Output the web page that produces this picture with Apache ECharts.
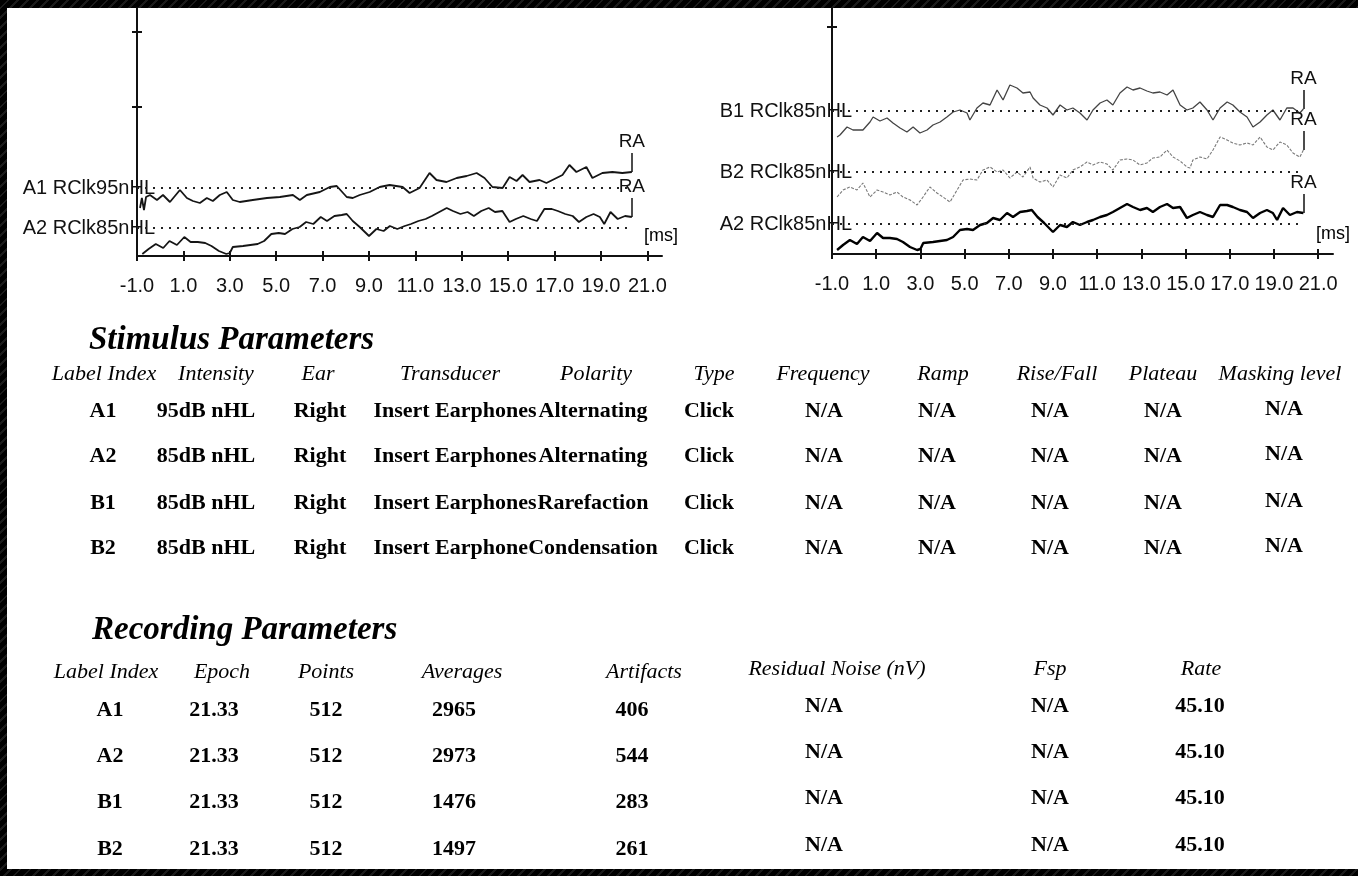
<!DOCTYPE html>
<html>
<head>
<meta charset="utf-8">
<title>Click ABR recordings</title>
<script src="https://cdn.jsdelivr.net/npm/echarts@6/dist/echarts.min.js"></script>
<style>
  html, body {
    margin: 0; padding: 0; width: 1358px; height: 876px; overflow: hidden;
    background: #000 repeating-linear-gradient(135deg, #000 0px, #000 5px, #1b1b1b 5px, #1b1b1b 7px);
  }
  #sheet { position: absolute; left: 7px; top: 8px; width: 1351px; height: 861px; background: #fff; }
  #chart { position: absolute; left: 0; top: 0; width: 1358px; height: 876px; }
</style>
</head>
<body>
<div id="sheet"></div>
<div id="chart"></div>
<script>
// ---- time axis (ms) ----
const timeTicks = [-1, 1, 3, 5, 7, 9, 11, 13, 15, 17, 19, 21];

// ---- averaged waveforms: [time ms, amplitude] relative to each trace's own baseline ----
const traceA1 = [[-0.87,-20],[-0.79,-10],[-0.7,-22],[-0.61,-9],[-0.44,-7],[-0.14,-12],[0.12,-7],[0.42,-14],[0.85,-2],[1.15,-10],[1.41,-13],[1.71,-15],[2.01,-10],[2.27,-13],[2.57,-7],[2.87,-4],[3.13,-12],[3.43,-14],[3.99,-12],[4.6,-10],[5.16,-9],[5.72,-7],[6.02,-12],[6.32,-7],[6.88,-4],[7.31,1],[7.61,2],[8.04,-9],[8.3,-10],[8.6,-7],[9.03,-4],[9.46,1],[9.89,3],[10.45,1],[10.75,-5],[11.18,0],[11.61,15],[11.91,8],[12.34,6],[12.78,10],[13.21,12],[13.64,15],[13.98,10],[14.32,1],[14.76,0],[15.06,11],[15.36,7],[15.62,13],[15.92,6],[16.35,8],[16.65,5],[17.08,10],[17.34,13],[17.64,23],[17.94,16],[18.37,21],[18.63,10],[19.06,15],[19.49,16],[19.92,15],[20.33,16]];

const traceA2 = [[-0.77,-26],[-0.5,-21],[-0.19,-16],[0.13,-20],[0.4,-13],[0.72,-17],[1.04,-9],[1.31,-14],[1.62,-14],[1.94,-15],[2.21,-18],[2.53,-23],[2.85,-26],[3.0,-25],[3.13,-19],[3.57,-18],[4.2,-16],[4.48,-13],[4.79,-6],[5.11,-5],[5.38,-6],[5.7,-1],[6.01,1],[6.29,6],[6.6,4],[6.92,11],[7.19,7],[7.51,12],[7.82,13],[8.04,14],[8.3,7],[8.6,1],[9.0,-8],[9.32,-1],[9.63,-3],[9.9,2],[10.22,-1],[10.54,2],[10.81,4],[11.13,7],[11.44,9],[11.71,12],[12.03,16],[12.35,20],[12.62,17],[12.94,14],[13.25,16],[13.52,12],[13.84,17],[14.16,20],[14.43,16],[14.75,17],[15.06,6],[15.33,9],[15.65,12],[15.97,9],[16.24,7],[16.56,19],[16.88,19],[17.14,17],[17.46,14],[17.78,12],[18.05,6],[18.37,11],[18.68,14],[18.95,11],[19.14,4],[19.41,16],[19.72,9],[20.04,12],[20.33,11]];

const traceB1 = [[-0.77,-26],[-0.64,-24],[-0.32,-16],[-0.05,-19],[0.4,-19],[0.72,-11],[0.86,-6],[1.17,-10],[1.49,-7],[1.76,-12],[2.08,-17],[2.39,-21],[2.67,-16],[2.98,-22],[3.3,-19],[3.57,-14],[3.89,-11],[4.2,-6],[4.48,-1],[4.79,1],[5.11,-2],[5.24,-9],[5.56,3],[5.83,8],[6.15,6],[6.47,21],[6.74,11],[7.05,26],[7.37,23],[7.64,18],[7.96,19],[8.1,13],[8.41,6],[8.73,3],[9.0,-4],[9.32,6],[9.63,1],[9.9,3],[10.22,-2],[10.54,-9],[10.81,1],[11.13,8],[11.44,11],[11.71,6],[12.03,18],[12.35,24],[12.62,21],[12.94,23],[13.25,20],[13.52,18],[13.84,19],[14.16,16],[14.43,21],[14.75,6],[15.06,1],[15.33,3],[15.65,9],[15.97,1],[16.24,-9],[16.56,3],[16.88,9],[17.14,6],[17.46,-1],[17.78,-6],[18.05,-16],[18.37,-11],[18.68,-4],[18.95,1],[19.27,-9],[19.58,3],[19.86,3],[20.17,-2],[20.33,2]];

const traceB2 = [[-0.77,-25],[-0.5,-18],[-0.19,-15],[0.13,-18],[0.4,-11],[0.72,-25],[1.04,-18],[1.31,-20],[1.62,-23],[1.94,-20],[2.21,-25],[2.53,-28],[2.85,-33],[3.12,-25],[3.43,-15],[3.75,-21],[4.02,-25],[4.34,-30],[4.66,-18],[4.93,-8],[5.24,-7],[5.56,-8],[5.83,2],[6.15,5],[6.47,0],[6.74,2],[7.05,-6],[7.37,0],[7.64,-5],[7.96,5],[8.1,-6],[8.41,-10],[8.73,-8],[9.0,-15],[9.32,-3],[9.63,-6],[9.9,2],[10.22,5],[10.54,10],[10.81,7],[11.13,10],[11.44,8],[11.71,2],[12.03,12],[12.35,13],[12.62,12],[12.94,7],[13.25,9],[13.52,14],[13.84,15],[14.16,22],[14.43,15],[14.75,11],[15.06,5],[15.2,4],[15.33,12],[15.65,15],[15.97,13],[16.24,22],[16.56,35],[16.88,32],[17.14,29],[17.46,27],[17.78,29],[18.05,27],[18.37,35],[18.68,25],[18.95,22],[19.27,30],[19.58,27],[19.86,19],[20.17,15],[20.33,22]];

// ---- trace names and vertical offsets of their baselines ----
const leftNames = ['A1 RClk95nHL', 'A2 RClk85nHL'];
const leftBaselines = [68, 28];
const rightNames = ['B1 RClk85nHL', 'B2 RClk85nHL', 'A2 RClk85nHL'];
const rightBaselines = [143, 82, 30];
const leftScaleTicks = [149, 224];
const rightScaleTicks = [227];
const markerText = 'RA';
const timeUnit = '[ms]';

// ---- parameter tables ----
const stimulusTitle = 'Stimulus Parameters';
const stimulusHeaders = ['Label Index', 'Intensity', 'Ear', 'Transducer', 'Polarity', 'Type', 'Frequency', 'Ramp', 'Rise/Fall', 'Plateau', 'Masking level'];
const stimulusRows = [
  ['A1', '95dB nHL', 'Right', 'Insert Earphones', 'Alternating', 'Click', 'N/A', 'N/A', 'N/A', 'N/A', 'N/A'],
  ['A2', '85dB nHL', 'Right', 'Insert Earphones', 'Alternating', 'Click', 'N/A', 'N/A', 'N/A', 'N/A', 'N/A'],
  ['B1', '85dB nHL', 'Right', 'Insert Earphones', 'Rarefaction', 'Click', 'N/A', 'N/A', 'N/A', 'N/A', 'N/A'],
  ['B2', '85dB nHL', 'Right', 'Insert Earphones', 'Condensation', 'Click', 'N/A', 'N/A', 'N/A', 'N/A', 'N/A']
];
const recordingTitle = 'Recording Parameters';
const recordingHeaders = ['Label Index', 'Epoch', 'Points', 'Averages', 'Artifacts', 'Residual Noise (nV)', 'Fsp', 'Rate'];
const recordingRows = [
  ['A1', '21.33', '512', '2965', '406', 'N/A', 'N/A', '45.10'],
  ['A2', '21.33', '512', '2973', '544', 'N/A', 'N/A', '45.10'],
  ['B1', '21.33', '512', '1476', '283', 'N/A', 'N/A', '45.10'],
  ['B2', '21.33', '512', '1497', '261', 'N/A', 'N/A', '45.10']
];

// ---- styling / layout ----
const SANS = '"Liberation Sans",Arial,sans-serif';
const SERIF = '"Liberation Serif","Times New Roman",serif';
const INK = '#111';

const panels = [
  { left: 137, top: 8, width: 525, height: 248, xMax: 21.63, yMax: 248 },
  { left: 832, top: 8, width: 501, height: 246, xMax: 21.67, yMax: 246 }
];

const tickStyle = { color: INK, width: 2 };

function xAxesFor(g) {
  const p = panels[g];
  return [
    {
      gridIndex: g, type: 'value', min: -1, max: p.xMax, position: 'bottom',
      axisLine: { show: true, onZero: false, lineStyle: { color: INK, width: 2 } },
      axisTick: { show: true, customValues: timeTicks, length: 5, lineStyle: tickStyle },
      axisLabel: { show: true, customValues: timeTicks, formatter: v => Number(v).toFixed(1),
        fontFamily: SANS, fontSize: 20, color: INK, margin: 20 },
      splitLine: { show: false }
    },
    { // inward half of the crossing ticks
      gridIndex: g, type: 'value', min: -1, max: p.xMax, position: 'bottom',
      axisLine: { show: false, onZero: false },
      axisTick: { show: true, inside: true, customValues: timeTicks, length: 5, lineStyle: tickStyle },
      axisLabel: { show: false }, splitLine: { show: false }
    }
  ];
}

function yAxesFor(g, names, baselines, scaleTicks, labelShift) {
  const p = panels[g];
  return [
    {
      gridIndex: g, type: 'value', min: 0, max: p.yMax, position: 'left',
      axisLine: { show: true, onZero: false, lineStyle: { color: INK, width: 2 } },
      axisTick: { show: true, customValues: scaleTicks, length: 5, lineStyle: tickStyle },
      axisLabel: { show: true, customValues: baselines,
        formatter: v => names[baselines.indexOf(Number(v))] || '',
        fontFamily: SANS, fontSize: 20, color: INK, margin: labelShift },
      splitLine: { show: false }
    },
    { // inward half of the crossing ticks
      gridIndex: g, type: 'value', min: 0, max: p.yMax, position: 'left',
      axisLine: { show: false, onZero: false },
      axisTick: { show: true, inside: true, customValues: scaleTicks, length: 5, lineStyle: tickStyle },
      axisLabel: { show: false }, splitLine: { show: false }
    }
  ];
}

function traceSeries(name, trace, baseline, g, lineStyle) {
  const last = trace[trace.length - 1];
  return {
    name: name, type: 'line', xAxisIndex: g * 2, yAxisIndex: g * 2,
    data: trace.map(pt => [pt[0], pt[1] + baseline]),
    showSymbol: false, symbol: 'none', silent: true, z: 3,
    lineStyle: lineStyle,
    markLine: {
      silent: true, symbol: ['none', 'none'], animation: false,
      lineStyle: { color: INK, width: 1.5, type: 'solid' },
      label: { show: false },
      data: [
        // dotted baseline
        [{ coord: [-1, baseline], lineStyle: { type: [2, 6], width: 2, color: '#222' } },
         { coord: [last[0], baseline] }],
        // end-of-trace marker
        [{ coord: [last[0], last[1] + baseline], lineStyle: { type: 'solid', width: 1.5, color: INK } },
         { coord: [last[0], last[1] + baseline + 19],
           label: { show: true, position: 'end', formatter: markerText, distance: 2,
                    fontFamily: SANS, fontSize: 19, color: INK } }]
      ]
    }
  };
}

const solidInk = { color: '#151515', width: 1.8 };
const thickInk = { color: '#000', width: 2.4 };
const fineGrey = { color: '#444', width: 1.3 };
const paleGrey = { color: '#7a7a7a', width: 1.1, type: [3, 1.5] };

const series = [
  traceSeries('A1', traceA1, leftBaselines[0], 0, solidInk),
  traceSeries('A2', traceA2, leftBaselines[1], 0, solidInk),
  traceSeries('B1', traceB1, rightBaselines[0], 1, fineGrey),
  traceSeries('B2', traceB2, rightBaselines[1], 1, paleGrey),
  traceSeries('A2', traceA2, rightBaselines[2], 1, thickInk)
];

// ---- table text ----
function txt(text, x, y, font, align, extra) {
  return {
    type: 'text', z: 10, silent: true,
    style: Object.assign({ text: text, x: x, y: y, font: font, fill: '#000',
      align: align || 'center', verticalAlign: 'middle',
      textAlign: align || 'center', textVerticalAlign: 'middle' }, extra || {})
  };
}

const TITLE_FONT = 'italic bold 33px ' + SERIF;
const HEAD_FONT = 'italic 22px ' + SERIF;
const CELL_FONT = 'bold 22px ' + SERIF;

const graphics = [];
graphics.push(txt(timeUnit, 661, 236, '18px ' + SANS));
graphics.push(txt(timeUnit, 1333, 234, '18px ' + SANS));

const stimHeadX = [104, 216, 318, 450, 596, 714, 823, 943, 1057, 1163, 1280];
const stimCellX = [103, 206, 320, 455, 593, 709, 824, 937, 1050, 1163, 1284];
const stimRowY = [411, 456, 503, 548];
graphics.push(txt(stimulusTitle, 89, 340, TITLE_FONT, 'left'));
stimulusHeaders.forEach((h, i) => graphics.push(txt(h, stimHeadX[i], 374, HEAD_FONT)));
stimulusRows.forEach((row, r) => row.forEach((c, i) => {
  const extra = i === 4 ? { backgroundColor: '#fff' } : null;
  graphics.push(txt(c, stimCellX[i], stimRowY[r] - (i === 10 ? 2 : 0), CELL_FONT, 'center', extra));
}));

const recHeadX = [106, 222, 326, 462, 644, 837, 1050, 1201];
const recCellX = [110, 214, 326, 454, 632, 824, 1050, 1200];
const recRowY = [710, 756, 802, 849];
graphics.push(txt(recordingTitle, 92, 630, TITLE_FONT, 'left'));
recordingHeaders.forEach((h, i) => graphics.push(txt(h, recHeadX[i], i >= 5 ? 669 : 672, HEAD_FONT)));
recordingRows.forEach((row, r) => row.forEach((c, i) => {
  graphics.push(txt(c, recCellX[i], recRowY[r] - (i >= 5 ? 4 : 0), CELL_FONT));
}));

const chart = echarts.init(document.getElementById('chart'), null, { renderer: 'canvas' });
chart.setOption({
  animation: false,
  backgroundColor: 'transparent',
  grid: panels.map(p => ({ left: p.left, top: p.top, width: p.width, height: p.height, outerBoundsMode: 'none' })),
  xAxis: [].concat(xAxesFor(0), xAxesFor(1)),
  yAxis: [].concat(yAxesFor(0, leftNames, leftBaselines, leftScaleTicks, -18),
                   yAxesFor(1, rightNames, rightBaselines, rightScaleTicks, -20)),
  tooltip: { show: false },
  series: series,
  graphic: { elements: graphics }
});
</script>
</body>
</html>
